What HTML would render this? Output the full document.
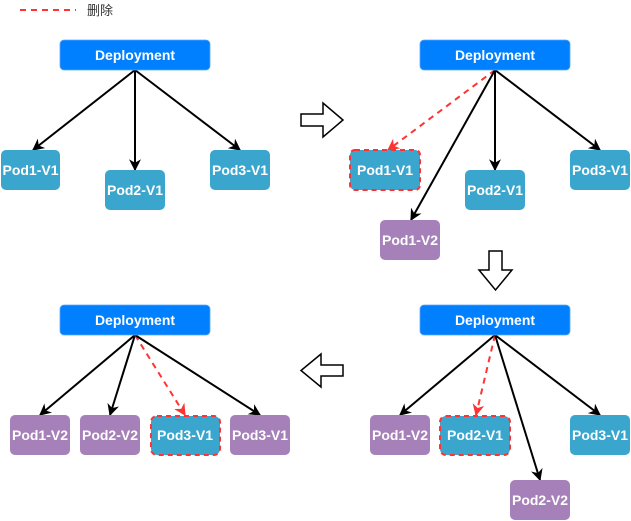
<!DOCTYPE html>
<html><head><meta charset="utf-8"><style>
html,body{margin:0;padding:0;background:#fff;width:631px;height:521px;overflow:hidden}
text{font-family:"Liberation Sans","Noto Sans CJK SC",sans-serif}
</style></head><body>
<svg width="631" height="521" viewBox="0 0 631 521" xmlns="http://www.w3.org/2000/svg">
<defs>
<marker id="ab" viewBox="0 0 10 10" refX="9" refY="5" markerWidth="12" markerHeight="12" markerUnits="userSpaceOnUse" orient="auto"><path d="M0,0 L10,5 L0,10 L3,5 Z" fill="#000"/></marker>
<marker id="ar" viewBox="0 0 10 10" refX="9" refY="5" markerWidth="12" markerHeight="12" markerUnits="userSpaceOnUse" orient="auto"><path d="M0,0 L10,5 L0,10 L3,5 Z" fill="#ff3333"/></marker>
</defs>
<line x1="20" y1="10" x2="76" y2="10" stroke="#ff3333" stroke-width="2" stroke-dasharray="6,5"/>
<text x="87" y="15" font-size="13" fill="#333">删除</text>

<g stroke-width="2" fill="none">
<line x1="135" y1="70" x2="33" y2="150" stroke="#000" marker-end="url(#ab)"/>
<line x1="135" y1="70" x2="135" y2="170" stroke="#000" marker-end="url(#ab)"/>
<line x1="135" y1="70" x2="240" y2="150" stroke="#000" marker-end="url(#ab)"/>
<line x1="495" y1="70" x2="388" y2="150" stroke="#ff3333" stroke-dasharray="6,5" marker-end="url(#ar)"/>
<line x1="495" y1="70" x2="411" y2="220" stroke="#000" marker-end="url(#ab)"/>
<line x1="495" y1="70" x2="495" y2="170" stroke="#000" marker-end="url(#ab)"/>
<line x1="495" y1="70" x2="600" y2="150" stroke="#000" marker-end="url(#ab)"/>
<line x1="135" y1="335" x2="40" y2="415" stroke="#000" marker-end="url(#ab)"/>
<line x1="135" y1="335" x2="110" y2="415" stroke="#000" marker-end="url(#ab)"/>
<line x1="135" y1="335" x2="185" y2="415" stroke="#ff3333" stroke-dasharray="6,5" marker-end="url(#ar)"/>
<line x1="135" y1="335" x2="260" y2="415" stroke="#000" marker-end="url(#ab)"/>
<line x1="495" y1="335" x2="400" y2="415" stroke="#000" marker-end="url(#ab)"/>
<line x1="495" y1="335" x2="476" y2="415" stroke="#ff3333" stroke-dasharray="6,5" marker-end="url(#ar)"/>
<line x1="495" y1="335" x2="600" y2="415" stroke="#000" marker-end="url(#ab)"/>
<line x1="495" y1="335" x2="540" y2="480" stroke="#000" marker-end="url(#ab)"/>
</g>

<g fill="#fff" stroke="#000" stroke-width="1.5">
<path d="M301,114 H323 V103 L343,120 L323,137 V126 H301 Z"/>
<path d="M489,251 H502 V270 H512 L495.5,290 L479,270 H489 Z"/>
<path d="M343,365 H321 V354 L301,370.5 L321,387 V376 H343 Z"/>
</g>

<g font-size="14" font-weight="bold" fill="#fff" text-anchor="middle">
<rect x="60" y="40" width="150" height="30" rx="4" fill="#007fff" stroke="#5aa7ff" stroke-width="0.8"/><text x="135" y="60">Deployment</text>
<rect x="420" y="40" width="150" height="30" rx="4" fill="#007fff" stroke="#5aa7ff" stroke-width="0.8"/><text x="495" y="60">Deployment</text>
<rect x="60" y="305" width="150" height="30" rx="4" fill="#007fff" stroke="#5aa7ff" stroke-width="0.8"/><text x="135" y="325">Deployment</text>
<rect x="420" y="305" width="150" height="30" rx="4" fill="#007fff" stroke="#5aa7ff" stroke-width="0.8"/><text x="495" y="325">Deployment</text>

<rect x="1" y="150" width="59" height="40" rx="5" fill="#3aa6ce"/><text x="30.5" y="175">Pod1-V1</text>
<rect x="105" y="170" width="60" height="40" rx="5" fill="#3aa6ce"/><text x="135" y="195">Pod2-V1</text>
<rect x="210" y="150" width="60" height="40" rx="5" fill="#3aa6ce"/><text x="240" y="175">Pod3-V1</text>
<rect x="350" y="150" width="70" height="40" rx="5" fill="#3aa6ce" stroke="#ff3333" stroke-width="2" stroke-dasharray="5,4"/><text x="385" y="175">Pod1-V1</text>
<rect x="465" y="170" width="60" height="40" rx="5" fill="#3aa6ce"/><text x="495" y="195">Pod2-V1</text>
<rect x="570" y="150" width="60" height="40" rx="5" fill="#3aa6ce"/><text x="600" y="175">Pod3-V1</text>
<rect x="380" y="220" width="60" height="40" rx="5" fill="#a680b8"/><text x="410" y="245">Pod1-V2</text>
<rect x="10" y="415" width="60" height="40" rx="5" fill="#a680b8"/><text x="40" y="440">Pod1-V2</text>
<rect x="80" y="415" width="60" height="40" rx="5" fill="#a680b8"/><text x="110" y="440">Pod2-V2</text>
<rect x="151" y="416" width="69" height="39" rx="6" fill="#3aa6ce" stroke="#ff3333" stroke-width="2" stroke-dasharray="5,4"/><text x="185" y="440">Pod3-V1</text>
<rect x="230" y="415" width="60" height="40" rx="5" fill="#a680b8"/><text x="260" y="440">Pod3-V1</text>
<rect x="370" y="415" width="60" height="40" rx="5" fill="#a680b8"/><text x="400" y="440">Pod1-V2</text>
<rect x="440" y="416" width="70" height="39" rx="6" fill="#3aa6ce" stroke="#ff3333" stroke-width="2" stroke-dasharray="5,4"/><text x="475" y="440">Pod2-V1</text>
<rect x="570" y="415" width="60" height="40" rx="5" fill="#3aa6ce"/><text x="600" y="440">Pod3-V1</text>
<rect x="510" y="480" width="60" height="40" rx="5" fill="#a680b8"/><text x="540" y="505">Pod2-V2</text>
</g>
</svg>
</body></html>
